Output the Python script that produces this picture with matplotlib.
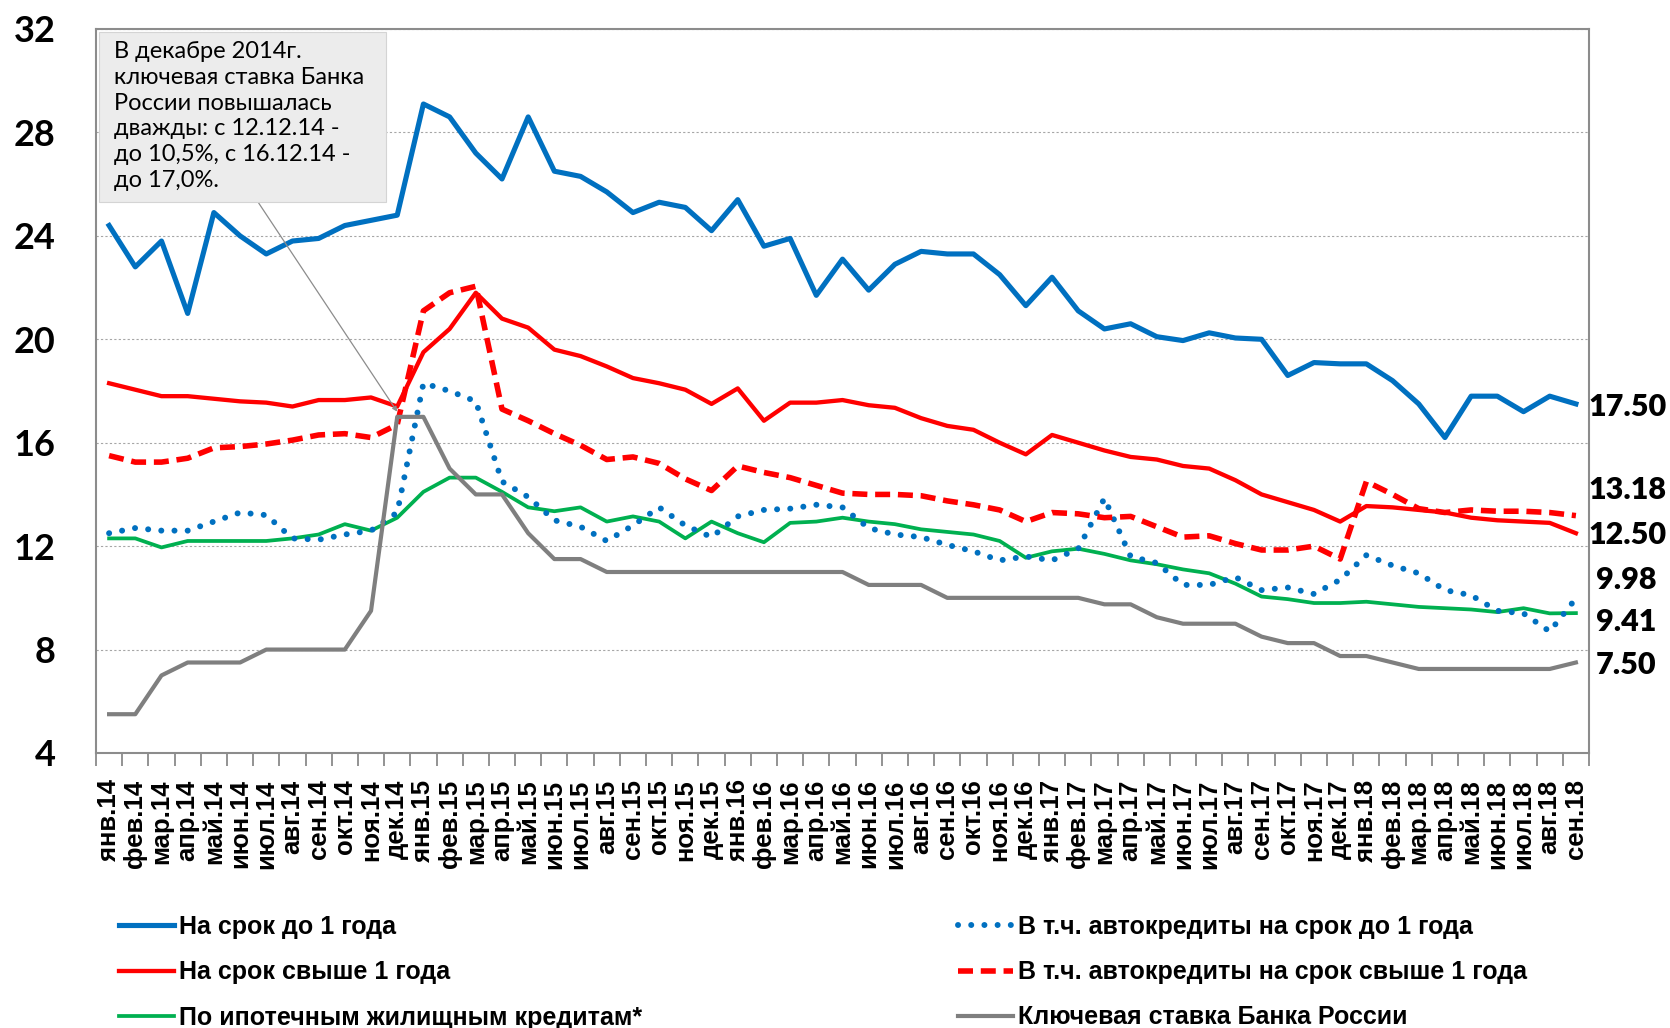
import matplotlib
matplotlib.use("Agg")
import matplotlib.pyplot as plt
from matplotlib.patches import Rectangle

month_names = ["янв", "фев", "мар", "апр", "май", "июн", "июл", "авг", "сен", "окт", "ноя", "дек"]
years = ["14", "15", "16", "17", "18"]
months = [f"{m}.{y}" for y in years for m in month_names][:57]

# На срок до 1 года
short_term = [24.4, 22.8, 23.8, 21.0, 24.9, 24.0, 23.3, 23.8, 23.9, 24.4, 24.6, 24.8,
              29.1, 28.6, 27.2, 26.2, 28.6, 26.5, 26.3, 25.7, 24.9, 25.3, 25.1, 24.2,
              25.4, 23.6, 23.9, 21.7, 23.1, 21.9, 22.9, 23.4, 23.3, 23.3, 22.5, 21.3,
              22.4, 21.1, 20.4, 20.6, 20.1, 19.95, 20.25, 20.05, 20.0, 18.6, 19.1, 19.05,
              19.05, 18.4, 17.5, 16.2, 17.8, 17.8, 17.2, 17.8, 17.5]
# На срок свыше 1 года
long_term = [18.3, 18.05, 17.8, 17.8, 17.7, 17.6, 17.55, 17.4, 17.65, 17.65, 17.75, 17.4,
             19.5, 20.4, 21.8, 20.8, 20.45, 19.6, 19.35, 18.95, 18.5, 18.3, 18.05, 17.5,
             18.1, 16.85, 17.55, 17.55, 17.65, 17.45, 17.35, 16.95, 16.65, 16.5, 16.0, 15.55,
             16.3, 16.0, 15.7, 15.45, 15.35, 15.1, 15.0, 14.55, 14.0, 13.7, 13.4, 12.95,
             13.55, 13.5, 13.4, 13.3, 13.1, 13.0, 12.95, 12.9, 12.5]
# По ипотечным жилищным кредитам*
mortgage = [12.3, 12.3, 11.95, 12.2, 12.2, 12.2, 12.2, 12.3, 12.45, 12.85, 12.6, 13.1,
            14.1, 14.65, 14.65, 14.1, 13.5, 13.35, 13.5, 12.95, 13.15, 12.95, 12.3, 12.95,
            12.5, 12.15, 12.9, 12.95, 13.1, 12.95, 12.85, 12.65, 12.55, 12.45, 12.2, 11.55,
            11.8, 11.9, 11.7, 11.45, 11.3, 11.1, 10.95, 10.55, 10.05, 9.95, 9.8, 9.8,
            9.85, 9.75, 9.65, 9.6, 9.55, 9.45, 9.6, 9.4, 9.41]
# В т.ч. автокредиты на срок до 1 года
auto_short = [12.5, 12.7, 12.6, 12.6, 12.95, 13.3, 13.2, 12.3, 12.25, 12.45, 12.6, 13.3,
              18.3, 18.0, 17.6, 14.5, 13.9, 13.0, 12.75, 12.2, 12.8, 13.5, 12.8, 12.35,
              13.15, 13.4, 13.45, 13.6, 13.5, 12.7, 12.45, 12.35, 12.05, 11.8, 11.45, 11.6,
              11.45, 11.9, 13.85, 11.6, 11.35, 10.5, 10.5, 10.8, 10.3, 10.4, 10.15, 10.7,
              11.65, 11.25, 10.95, 10.3, 10.1, 9.5, 9.4, 8.7, 9.98]
# В т.ч. автокредиты на срок свыше 1 года
auto_long = [15.5, 15.25, 15.25, 15.4, 15.8, 15.85, 15.95, 16.1, 16.3, 16.35, 16.2, 16.7,
             21.1, 21.8, 22.05, 17.3, 16.85, 16.35, 15.9, 15.35, 15.45, 15.2, 14.6, 14.15,
             15.1, 14.85, 14.65, 14.35, 14.05, 14.0, 14.0, 13.95, 13.75, 13.6, 13.4, 12.95,
             13.3, 13.25, 13.1, 13.15, 12.75, 12.35, 12.4, 12.1, 11.85, 11.85, 12.0, 11.5,
             14.5, 14.0, 13.45, 13.3, 13.4, 13.35, 13.35, 13.3, 13.18]
# Ключевая ставка Банка России
key_rate = [5.5, 5.5, 7.0, 7.5, 7.5, 7.5, 8.0, 8.0, 8.0, 8.0, 9.5, 17.0,
            17.0, 15.0, 14.0, 14.0, 12.5, 11.5, 11.5, 11.0, 11.0, 11.0, 11.0, 11.0,
            11.0, 11.0, 11.0, 11.0, 11.0, 10.5, 10.5, 10.5, 10.0, 10.0, 10.0, 10.0,
            10.0, 10.0, 9.75, 9.75, 9.25, 9.0, 9.0, 9.0, 8.5, 8.25, 8.25, 7.75,
            7.75, 7.5, 7.25, 7.25, 7.25, 7.25, 7.25, 7.25, 7.5]

y_ticks = [4, 8, 12, 16, 20, 24, 28, 32]

note = ("В декабре 2014г.\nключевая ставка Банка\nРоссии повышалась\n"
        "дважды: с 12.12.14 -\nдо 10,5%, с 16.12.14 -\nдо 17,0%.")

W, H = 1670, 1028


def main():
  fig = plt.figure(figsize=(W / 100, H / 100), dpi=100)
  ax = fig.add_axes([96 / W, 1 - 753 / H, (1589 - 96) / W, (753 - 29) / H])

  x = list(range(len(months)))

  l_short, = ax.plot(x, short_term, color="#0070C0", lw=3.7, solid_joinstyle="round", label="На срок до 1 года")
  l_long, = ax.plot(x, long_term, color="#FF0000", lw=3.1, solid_joinstyle="round", label="На срок свыше 1 года")
  l_mort, = ax.plot(x, mortgage, color="#00B050", lw=2.7, solid_joinstyle="round",
                    label="По ипотечным жилищным кредитам*")
  l_as, = ax.plot(x, auto_short, color="#0070C0", lw=4.3, linestyle=(0, (0.01, 2.2)), dash_capstyle="round",
                  label="В т.ч. автокредиты на срок до 1 года")
  l_al, = ax.plot(x, auto_long, color="#FF0000", lw=4.0, linestyle=(0, (2.7, 1.4)), dash_capstyle="butt",
                  label="В т.ч. автокредиты на срок свыше 1 года")
  l_key, = ax.plot(x, key_rate, color="#7F7F7F", lw=3.0, solid_joinstyle="round",
                   label="Ключевая ставка Банка России")

  # axes
  ax.set_xlim(-0.5, len(months) - 0.5)
  ax.set_ylim(4, 32)
  ax.set_yticks(y_ticks)
  ax.set_yticklabels([str(t) for t in y_ticks], fontsize=26, fontweight="bold", family=["Lato", "DejaVu Sans"])
  ax.tick_params(axis="y", length=0, pad=29)
  ax.set_xticks(x)
  ax.set_xticklabels(months, rotation=90, fontsize=18.5, fontweight="bold", family=["Liberation Sans", "DejaVu Sans"])
  ax.set_xticks([i - 0.5 for i in range(len(months) + 1)], minor=True)
  ax.tick_params(axis="x", which="major", length=0, pad=19)
  ax.tick_params(axis="x", which="minor", length=9, width=1.2, color="#808080", direction="out")
  for s in ax.spines.values():
    s.set_color("#8c8c8c")
    s.set_linewidth(1.5)
  ax.yaxis.grid(True, linestyle=(0, (2, 2)), color="#a6a6a6", lw=0.8)
  ax.set_axisbelow(True)

  # end labels
  ends = [(short_term, 13, -3), (auto_long, 13, 26), (long_term, 13, -2),
          (auto_short, 20, 18), (mortgage, 20, -9), (key_rate, 20, -2)]
  for series, dx, dy in ends:
    ax.annotate(f"{series[-1]:.2f}", xy=(len(months) - 1, series[-1]), xytext=(dx, dy),
                textcoords="offset pixels", va="center", ha="left", fontsize=22, fontweight="heavy",
                family=["Lato", "DejaVu Sans"], annotation_clip=False)

  # note box
  fig.add_artist(Rectangle((99 / W, 1 - 202 / H), (386 - 99) / W, (202 - 32) / H, transform=fig.transFigure,
                           facecolor="#ececec", edgecolor="#d4d4d4", lw=0.8, zorder=5))
  fig.text(114 / W, 1 - 41 / H, note, fontsize=17, va="top", ha="left", linespacing=1.28,
           family=["Lato", "DejaVu Sans"], zorder=6)
  ax.annotate("", xy=(11, 17.2), xytext=(258, H - 202), textcoords="figure pixels",
              arrowprops=dict(arrowstyle="-|>", color="#8c8c8c", lw=0.9, mutation_scale=7,
                              shrinkA=0, shrinkB=0), zorder=6)

  # legend
  leg_font = {"family": ["Liberation Sans"], "weight": "bold", "size": 18}
  common = dict(frameon=False, loc="upper left", prop=leg_font, handlelength=2.2, handletextpad=0.2,
                labelspacing=0.85, borderpad=0, borderaxespad=0)
  fig.legend(handles=[l_short, l_long, l_mort], bbox_to_anchor=(119 / W, 1 - 915 / H), **common)
  fig.legend(handles=[l_as, l_al, l_key], bbox_to_anchor=(958 / W, 1 - 915 / H), **common)

  fig.savefig("out.png", dpi=100, facecolor="white")


if __name__ == "__main__":
  main()
